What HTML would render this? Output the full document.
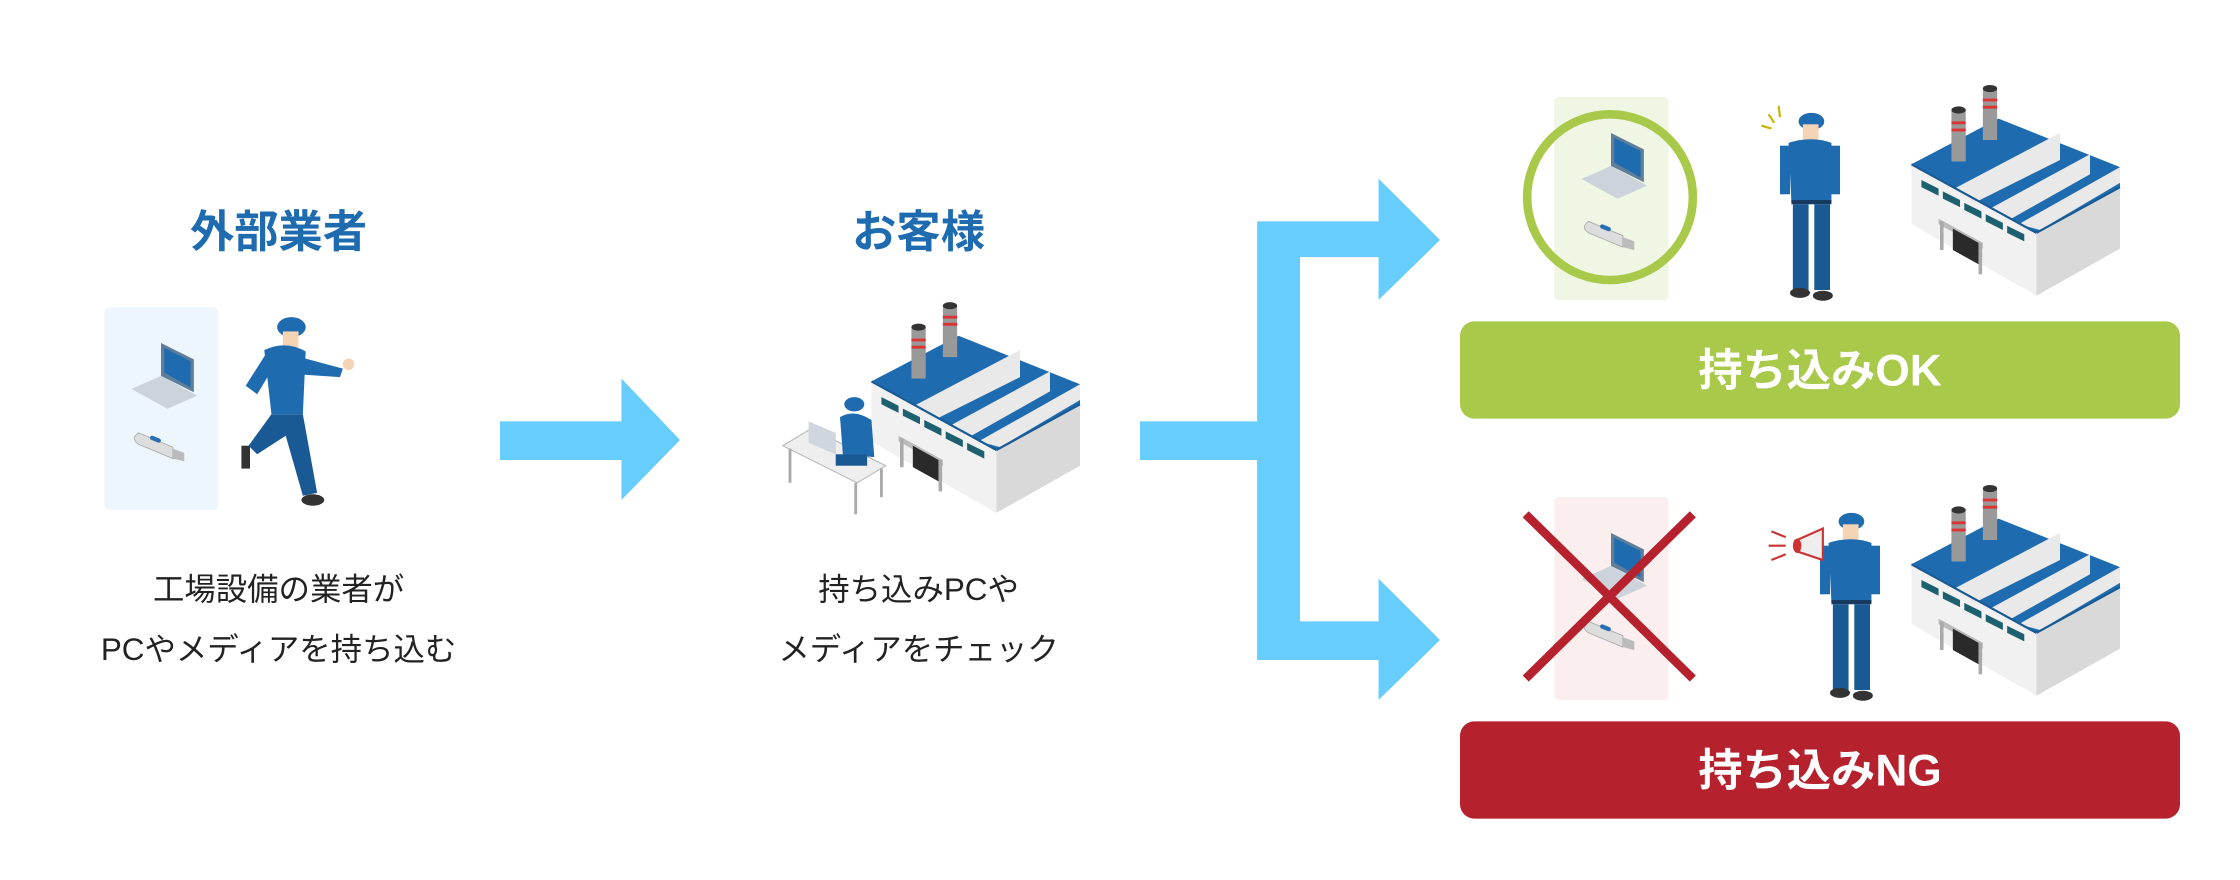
<!DOCTYPE html>
<html><head><meta charset="utf-8"><style>
html,body{margin:0;padding:0;background:#fff;width:2240px;height:880px;overflow:hidden}
svg{display:block}
text{font-family:"Liberation Sans","Noto Sans CJK JP",sans-serif}
</style></head><body>
<svg width="2240" height="880" viewBox="0 0 1568 616" xmlns="http://www.w3.org/2000/svg">
<defs>
<g id="factory">
  <polygon points="0,55 0,97 87.5,147 87.5,103" fill="#f1f1f1"/>
  <polygon points="87.5,103 146,71 146,114 87.5,147" fill="#d9d9d9"/>
  <polygon points="0,55 61,23 146,57 146,71 87.5,103" fill="#1f6bb0"/>
  <polygon points="30,72 104,33 104,52 44,82" fill="#e9e9e9"/>
  <polygon points="55,86 125,48 125,62 70,93" fill="#e9e9e9"/>
  <polygon points="75,97 146,57 146,68 90,101" fill="#e9e9e9"/>
  <line x1="0" y1="55" x2="87.5" y2="103" stroke="#1a5a94" stroke-width="1.5"/>
  <line x1="87.5" y1="103" x2="146" y2="71" stroke="#1a5a94" stroke-width="1.5"/>
  <g fill="#1d6070">
    <polygon points="7,66 19,72 19,77 7,71"/><polygon points="22,74 34,80 34,85 22,79"/>
    <polygon points="37,82 49,88 49,93 37,87"/><polygon points="52,90 64,96 64,101 52,95"/>
    <polygon points="67,98 79,104 79,109 67,103"/>
  </g>
  <polygon points="19,93 50,110 50,114 19,97" fill="#bbb"/>
  <polygon points="29,100 47,110 47,125 29,115" fill="#2a2a2a"/>
  <rect x="20" y="95" width="2.5" height="20" fill="#aaa"/><rect x="47" y="110" width="2.5" height="22" fill="#aaa"/>
  <rect x="28" y="17" width="10" height="36" fill="#999"/><ellipse cx="33" cy="17" rx="5" ry="2.5" fill="#333"/>
  <rect x="28" y="25" width="10" height="2" fill="#d33"/><rect x="28" y="30" width="10" height="2" fill="#d33"/>
  <rect x="50" y="2" width="10" height="36" fill="#999"/><ellipse cx="55" cy="2" rx="5" ry="2.5" fill="#333"/>
  <rect x="50" y="9" width="10" height="2" fill="#d33"/><rect x="50" y="14" width="10" height="2" fill="#d33"/>
</g>
<g id="laptop">
  <polygon points="0,22 22,34 40,26 18,14" fill="#ccd3da"/>
  <polygon points="18,14 18,-6 38,4 38,24" fill="#5f7e9b"/>
  <polygon points="20,12 20,-3 36,5 36,21" fill="#1f6bb0"/>
</g>
<g id="usb">
  <path d="M4,0 L28,10 L28,18 L4,8 Q-2,4 4,0Z" fill="#ddd" stroke="#aaa" stroke-width="0.6"/>
  <rect x="12" y="3" width="8" height="3" rx="1.5" fill="#2a6fb3" transform="rotate(22 16 4)"/>
  <polygon points="28,11 36,14 36,20 28,18" fill="#bbb"/>
</g>
<g id="worker">
  <ellipse cx="20" cy="5" rx="9" ry="6" fill="#1f6bb0"/>
  <rect x="14" y="7" width="11" height="12" fill="#f5d3b5"/>
  <path d="M4,20 Q20,15 34,20 L34,62 L6,62Z" fill="#1f6bb0"/>
  <rect x="-2" y="22" width="7" height="34" fill="#1f6bb0"/>
  <rect x="33" y="22" width="7" height="34" fill="#1f6bb0"/>
  <rect x="6" y="60" width="28" height="3" fill="#163a60"/>
  <rect x="7" y="63" width="11" height="60" fill="#1a5a94"/>
  <rect x="22" y="63" width="11" height="60" fill="#1a5a94"/>
  <ellipse cx="12" cy="125" rx="7" ry="3.5" fill="#333"/><ellipse cx="28" cy="127" rx="7" ry="3.5" fill="#333"/>
</g>
</defs>

<text x="195" y="173" font-size="31" font-weight="bold" fill="#1e6bb0" text-anchor="middle">外部業者</text>
<rect x="73" y="215" width="80" height="142" rx="4" fill="#eef6fd"/>
<use href="#laptop" transform="translate(92,247) scale(1.15)"/>
<use href="#usb" x="93" y="303"/>
<g>
  <ellipse cx="204" cy="229" rx="10" ry="7" fill="#1f6bb0"/>
  <rect x="198" y="232" width="11" height="12" fill="#f5d3b5"/>
  <path d="M185,245 Q200,238 214,246 L212,290 L190,290Z" fill="#1f6bb0"/>
  <path d="M186,248 L172,270 L180,276 L192,256Z" fill="#1f6bb0"/>
  <path d="M210,250 L240,258 L238,264 L208,262Z" fill="#1f6bb0"/>
  <circle cx="244" cy="255" r="4" fill="#f5d3b5"/>
  <path d="M190,290 L212,290 L222,345 L212,347 L200,305 L180,318 L174,312Z" fill="#1a5a94"/>
  <ellipse cx="219" cy="350" rx="8" ry="4" fill="#333"/><rect x="169" y="312" width="6" height="16" fill="#333"/>
</g>
<text x="195" y="420" font-size="22" fill="#222" text-anchor="middle">工場設備の業者が</text>
<text x="195" y="462" font-size="22" fill="#222" text-anchor="middle">PCやメディアを持ち込む</text>

<polygon points="350,295 435,295 435,265 476,308 435,350 435,322 350,322" fill="#66cdfd"/>

<text x="643" y="173" font-size="31" font-weight="bold" fill="#1e6bb0" text-anchor="middle">お客様</text>
<use href="#factory" x="610" y="212"/>
<g>
  <polygon points="548,312 600,338 620,326 568,300" fill="#eee" stroke="#bbb" stroke-width="0.8"/>
  <rect x="552" y="314" width="2" height="24" fill="#aaa"/><rect x="598" y="338" width="2" height="22" fill="#aaa"/><rect x="616" y="328" width="2" height="20" fill="#aaa"/>
  <polygon points="566,310 585,318 585,303 566,295" fill="#cfd6dd"/>
  <ellipse cx="598" cy="283" rx="7" ry="5" fill="#1f6bb0"/>
  <path d="M588,292 Q598,286 610,294 L612,320 L590,318Z" fill="#1f6bb0"/>
  <rect x="585" y="318" width="22" height="8" fill="#1a5a94"/>
</g>
<text x="643" y="420" font-size="22" fill="#222" text-anchor="middle">持ち込みPCや</text>
<text x="643" y="462" font-size="22" fill="#222" text-anchor="middle">メディアをチェック</text>

<polygon points="798,295 880,295 880,155 965,155 965,125 1008,168 965,210 965,180 910,180 910,435 965,435 965,405 1008,448 965,490 965,462 880,462 880,322 798,322" fill="#66cdfd"/>

<rect x="1088" y="68" width="80" height="142" rx="3" fill="#eff6e3"/>
<use href="#laptop" transform="translate(1107,100) scale(1.15)"/>
<use href="#usb" x="1108" y="155"/>
<circle cx="1127" cy="138" r="58" fill="none" stroke="#a8c94a" stroke-width="6"/>
<use href="#worker" x="1248" y="80"/>
<g stroke="#c8b400" stroke-width="1.5"><line x1="1238" y1="80" x2="1242" y2="86"/><line x1="1245" y1="74" x2="1246" y2="82"/><line x1="1233" y1="88" x2="1240" y2="90"/></g>
<use href="#factory" x="1338" y="60"/>
<rect x="1022" y="225" width="504" height="68" rx="10" fill="#a8c94a"/>
<text x="1274" y="270" font-size="31" font-weight="bold" fill="#fff" text-anchor="middle">持ち込みOK</text>

<rect x="1088" y="348" width="80" height="142" rx="3" fill="#fbeeee"/>
<use href="#laptop" transform="translate(1107,380) scale(1.15)"/>
<use href="#usb" x="1108" y="435"/>
<line x1="1068" y1="360" x2="1185" y2="475" stroke="#b5222d" stroke-width="6"/>
<line x1="1185" y1="360" x2="1068" y2="475" stroke="#b5222d" stroke-width="6"/>
<use href="#worker" x="1276" y="360"/>
<g>
  <polygon points="1258,378 1276,370 1276,392 1258,386" fill="#eee" stroke="#c33" stroke-width="1.5"/>
  <ellipse cx="1258" cy="382" rx="3" ry="5" fill="#c33"/>
  <g stroke="#c33" stroke-width="1.5"><line x1="1240" y1="372" x2="1250" y2="376"/><line x1="1238" y1="382" x2="1250" y2="382"/><line x1="1240" y1="392" x2="1250" y2="388"/></g>
</g>
<use href="#factory" x="1338" y="340"/>
<rect x="1022" y="505" width="504" height="68" rx="10" fill="#b5222d"/>
<text x="1274" y="550" font-size="31" font-weight="bold" fill="#fff" text-anchor="middle">持ち込みNG</text>
</svg>
</body></html>
